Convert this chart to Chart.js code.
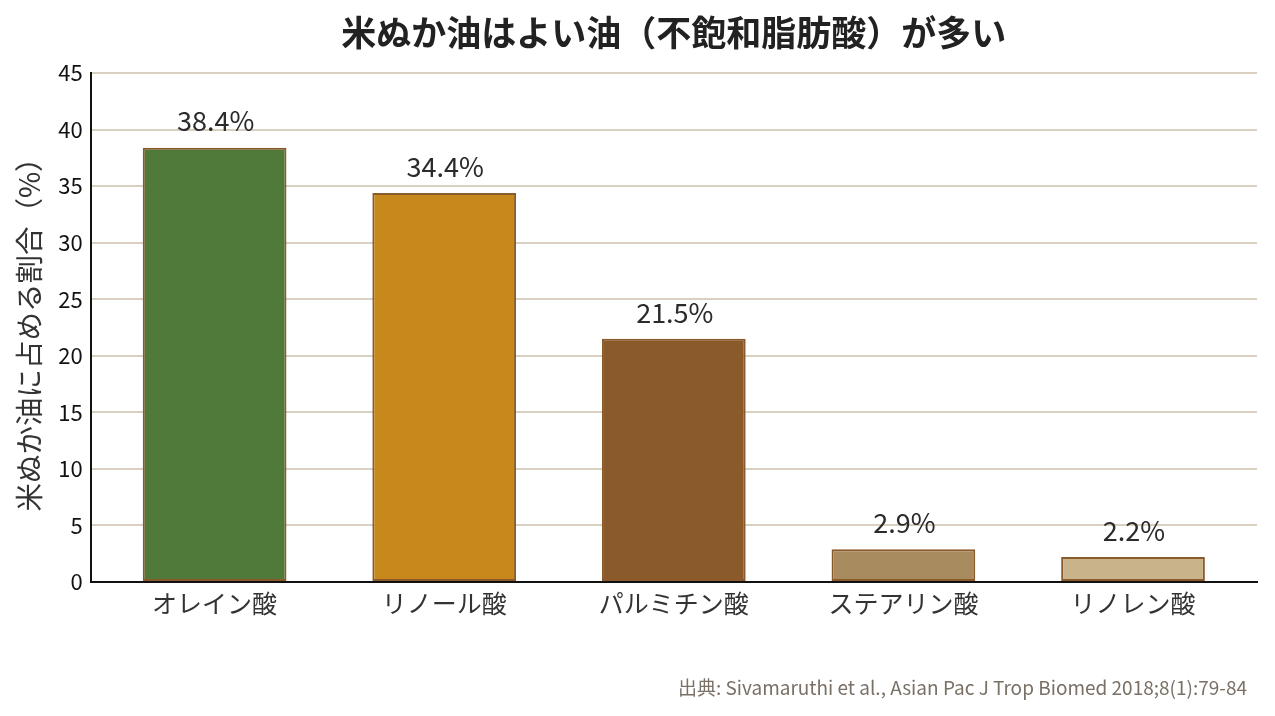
<!DOCTYPE html>
<html><head><meta charset="utf-8">
<script src="https://cdn.jsdelivr.net/npm/chart.js@4/dist/chart.umd.min.js"></script>
<style>html,body{margin:0;padding:0;background:#fff}#wrap{width:1275px;height:716px;position:relative}</style>
</head><body><div id="wrap"><canvas id="c"></canvas></div>
<script>
const categories = ["オレイン酸","リノール酸","パルミチン酸","ステアリン酸","リノレン酸"];
const values = [38.4, 34.4, 21.5, 2.9, 2.2];
const valueLabels = ["38.4%","34.4%","21.5%","2.9%","2.2%"];
const barColors = ["#507a3a","#c8891c","#8b5a2b","#a88b5e","#c8b38a"];
const titleText = "米ぬか油はよい油（不飽和脂肪酸）が多い";
const yTitle = "米ぬか油に占める割合（%）";
const sourceText = "出典: Sivamaruthi et al., Asian Pac J Trop Biomed 2018;8(1):79-84";
const FONT = "'Noto Sans CJK JP','Noto Sans',sans-serif";

const points = values.map((v, i) => ({ x: i, y: v }));

const labelPlugin = {
  id: 'valLabels',
  afterDatasetsDraw(chart) {
    const ctx = chart.ctx;
    const meta = chart.getDatasetMeta(0);
    ctx.save();
    ctx.font = "27px " + FONT;
    ctx.fillStyle = "#2b2b2b";
    ctx.textAlign = "center";
    ctx.textBaseline = "bottom";
    meta.data.forEach((el, i) => {
      ctx.fillText(valueLabels[i], el.x + 1, el.y - 13);
    });
    ctx.restore();
  }
};

const sourcePlugin = {
  id: 'sourceNote',
  afterDraw(chart) {
    const ctx = chart.ctx;
    ctx.save();
    ctx.font = "19px " + FONT;
    ctx.fillStyle = "#7a7065";
    ctx.textAlign = "right";
    ctx.textBaseline = "middle";
    ctx.fillText(sourceText, chart.chartArea.right - 10, chart.height - 28);
    ctx.restore();
  }
};

new Chart(document.getElementById('c'), {
  type: 'bar',
  data: {
    datasets: [{
      data: points,
      backgroundColor: barColors,
      borderColor: "#8b5a2b",
      borderWidth: 2,
      borderSkipped: false,
      barPercentage: 0.626,
      categoryPercentage: 1
    }]
  },
  options: {
    responsive: true,
    maintainAspectRatio: false,
    animation: false,
    layout: { padding: { left: 8, right: 18, top: 9, bottom: 92 } },
    plugins: {
      legend: { display: false },
      tooltip: { enabled: false },
      title: {
        display: true, text: titleText, fullSize: false,
        color: "#222", font: { family: FONT, size: 35, weight: 'bold' },
        padding: { top: 3, bottom: 19 }
      }
    },
    scales: {
      x: {
        type: 'linear',
        min: -0.54, max: 4.54,
        offset: false,
        grid: { display: false, drawTicks: false },
        border: { display: true, color: "#111", width: 2 },
        ticks: {
          stepSize: 1, includeBounds: false, autoSkip: false, maxRotation: 0,
          color: "#333", font: { family: FONT, size: 25 }, padding: 6,
          callback: (v) => (Number.isInteger(v) && categories[v] !== undefined) ? categories[v] : ''
        }
      },
      y: {
        min: 0, max: 45,
        ticks: { stepSize: 5, color: "#111", font: { family: FONT, size: 22 }, padding: 8 },
        grid: { color: "#d9d0c1", lineWidth: 2, drawTicks: false },
        border: { display: true, color: "#111", width: 2 },
        title: { display: true, text: yTitle, color: "#333", font: { family: FONT, size: 28.5 }, padding: { bottom: 4 } }
      }
    }
  },
  plugins: [labelPlugin, sourcePlugin]
});
</script></body></html>
